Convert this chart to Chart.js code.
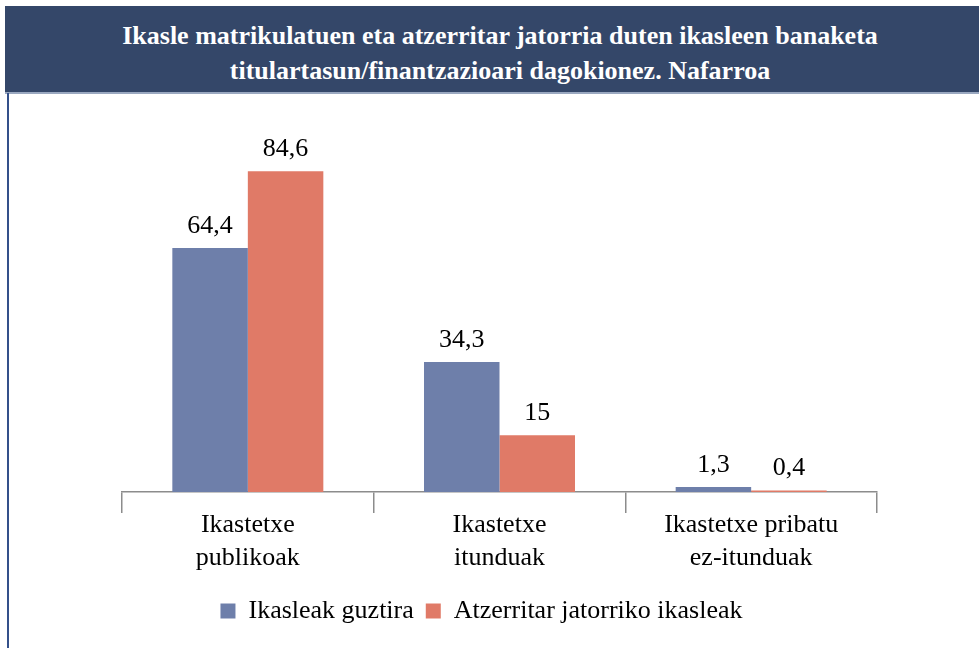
<!DOCTYPE html>
<html>
<head>
<meta charset="utf-8">
<script src="https://cdn.jsdelivr.net/npm/chart.js@4/dist/chart.umd.min.js"></script>
<style>
  html, body { margin: 0; padding: 0; background: #ffffff; }
  body { width: 979px; height: 648px; position: relative; overflow: hidden; }
  #banner {
    position: absolute; left: 5px; top: 6px; width: 974px; height: 86px;
    background: #344769; color: #ffffff; z-index: 2;
    font-family: 'Liberation Serif', 'DejaVu Serif', serif; font-weight: bold;
    font-size: 26px; line-height: 35px; text-align: center;
    box-sizing: border-box; padding-top: 12px; padding-left: 16px;
  }
  #underline { position: absolute; left: 5px; top: 92px; width: 974px; height: 2px; background: #9aa8c0; z-index: 2; }
  #leftline { position: absolute; left: 7px; top: 93px; width: 2px; height: 555px; background: #34508a; z-index: 2; }
  #wrap { position: absolute; left: 0; top: 0; width: 979px; height: 648px; }
</style>
</head>
<body>
<div id="banner">Ikasle matrikulatuen eta atzerritar jatorria duten ikasleen banaketa<br>titulartasun/finantzazioari dagokionez. Nafarroa</div>
<div id="underline"></div>
<div id="leftline"></div>
<div id="wrap"><canvas id="c" width="979" height="648"></canvas></div>
<script>
const categories = [["Ikastetxe", "publikoak"], ["Ikastetxe", "itunduak"], ["Ikastetxe pribatu", "ez-itunduak"]];
const seriesNames = ["Ikasleak guztira", "Atzerritar jatorriko ikasleak"];
const totalStudents = [64.4, 34.3, 1.3];
const foreignStudents = [84.6, 15, 0.4];
const seriesColors = ["#6e7faa", "#e07a67"];

const FONT = "'Liberation Serif', 'DejaVu Serif', serif";

const valueLabels = {
  id: 'valueLabels',
  afterDatasetsDraw(chart) {
    const ctx = chart.ctx;
    ctx.save();
    ctx.font = '26px ' + FONT;
    ctx.fillStyle = '#000000';
    ctx.textAlign = 'center';
    ctx.textBaseline = 'alphabetic';
    chart.data.datasets.forEach((ds, di) => {
      const meta = chart.getDatasetMeta(di);
      meta.data.forEach((bar, i) => {
        const v = ds.data[i];
        const txt = String(v).replace('.', ',');
        ctx.fillText(txt, bar.x, bar.y - 15);
      });
    });
    ctx.restore();
  }
};

const legendShift = {
  id: 'legendShift',
  afterLayout(chart) {
    if (chart.legend) { chart.legend.left -= 8; chart.legend.right -= 8; }
  }
};

new Chart(document.getElementById('c'), {
  type: 'bar',
  data: {
    labels: categories,
    datasets: [
      { label: seriesNames[0], data: totalStudents, backgroundColor: seriesColors[0] },
      { label: seriesNames[1], data: foreignStudents, backgroundColor: seriesColors[1] }
    ]
  },
  options: {
    responsive: false,
    animation: false,
    events: [],
    datasets: { bar: { categoryPercentage: 0.6, barPercentage: 1.0 } },
    layout: { padding: { top: 113, left: 0, right: 0, bottom: 14 } },
    scales: {
      x: {
        grid: { display: true, offset: true, drawOnChartArea: false, drawTicks: true, tickLength: 21, color: '#8c8c8c', lineWidth: 1.5 },
        border: { display: true, color: '#8c8c8c', width: 1.5 },
        ticks: { color: '#000000', font: { family: FONT, size: 26, lineHeight: 33 / 26 }, padding: -4, maxRotation: 0, autoSkip: false },
        afterFit(scale) { scale.height += 15; }
      },
      y: {
        min: 0, max: 100,
        grid: { display: false },
        border: { display: false },
        ticks: { display: false },
        afterFit(scale) { scale.width = 122; }
      },
      y2: {
        position: 'right',
        min: 0, max: 100,
        grid: { display: false },
        border: { display: false },
        ticks: { display: false },
        afterFit(scale) { scale.width = 102; }
      }
    },
    plugins: {
      legend: {
        position: 'bottom',
        labels: { boxWidth: 15, boxHeight: 15, padding: 12, color: '#000000', font: { family: FONT, size: 26 } }
      },
      title: { display: false },
      tooltip: { enabled: false }
    }
  },
  plugins: [valueLabels, legendShift]
});
</script>
</body>
</html>
